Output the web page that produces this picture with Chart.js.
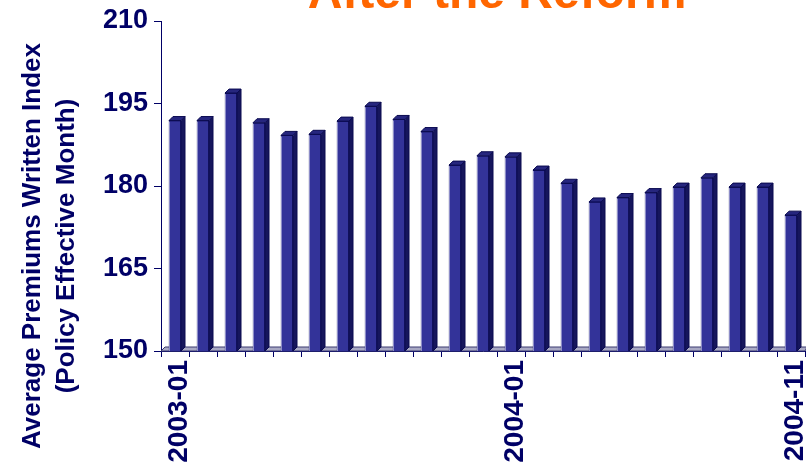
<!DOCTYPE html>
<html>
<head>
<meta charset="utf-8">
<title>After the Reform</title>
<script src="https://cdn.jsdelivr.net/npm/chart.js@4.4.0/dist/chart.umd.min.js"></script>
<style>
  html, body { margin: 0; padding: 0; background: #fff; }
  canvas { display: block; }
</style>
</head>
<body>
<canvas id="premiumsChart" width="806" height="466"></canvas>
<script>
const months = [
    '2003-01', '2003-02', '2003-03', '2003-04', '2003-05', '2003-06',
    '2003-07', '2003-08', '2003-09', '2003-10', '2003-11', '2003-12',
    '2004-01', '2004-02', '2004-03', '2004-04', '2004-05', '2004-06',
    '2004-07', '2004-08', '2004-09', '2004-10', '2004-11'
];
const premiumsIndex = [
    191.9, 191.9, 196.9, 191.5, 189.2, 189.4, 191.8, 194.5, 192.1, 189.9, 183.8, 185.5,
    185.3, 182.9, 180.5, 177.1, 177.9, 178.8, 179.8, 181.5, 179.8, 179.8, 174.7
];
const shownMonths = ['2003-01', '2004-01', '2004-11'];
const yTicks = [150, 165, 180, 195, 210];

const FONT = "'Liberation Sans', Arial, sans-serif";
const NAVY = '#000066';
const DEPTH = 4;

// fake 3D: floor strip, bar tops and right-hand sides
const bar3d = {
    id: 'bar3d',
    beforeDatasetsDraw(chart) {
        const ctx = chart.ctx;
        const area = chart.chartArea;
        ctx.save();
        ctx.beginPath();
        ctx.moveTo(area.left, area.bottom);
        ctx.lineTo(area.left + DEPTH, area.bottom - DEPTH);
        ctx.lineTo(area.right + DEPTH - 2, area.bottom - DEPTH);
        ctx.lineTo(area.right, area.bottom);
        ctx.closePath();
        ctx.fillStyle = '#a9a9c4';
        ctx.fill();
        ctx.strokeStyle = '#3a3a70';
        ctx.lineWidth = 1;
        ctx.stroke();
        ctx.restore();
    },
    afterDatasetsDraw(chart) {
        const ctx = chart.ctx;
        const area = chart.chartArea;
        ctx.save();
        ctx.lineWidth = 1;
        chart.getDatasetMeta(0).data.forEach(bar => {
            const l = bar.x - bar.width / 2;
            const r = bar.x + bar.width / 2;
            const top = bar.y;
            const base = Math.min(bar.base, area.bottom);

            ctx.strokeStyle = '#0a0a50';
            ctx.beginPath();
            ctx.moveTo(r, top);
            ctx.lineTo(r + DEPTH, top - DEPTH);
            ctx.lineTo(r + DEPTH, base - DEPTH);
            ctx.lineTo(r, base);
            ctx.closePath();
            ctx.fillStyle = '#16165c';
            ctx.fill();
            ctx.stroke();

            ctx.beginPath();
            ctx.moveTo(l, top);
            ctx.lineTo(l + DEPTH, top - DEPTH);
            ctx.lineTo(r + DEPTH, top - DEPTH);
            ctx.lineTo(r, top);
            ctx.closePath();
            ctx.fillStyle = '#26267e';
            ctx.fill();
            ctx.stroke();

            ctx.beginPath();
            ctx.moveTo(l + 0.5, top + 1);
            ctx.lineTo(l + 0.5, base);
            ctx.strokeStyle = '#8c8cc8';
            ctx.stroke();
        });
        ctx.restore();
    }
};

// headline and two-line axis title
const headings = {
    id: 'headings',
    afterDraw(chart) {
        const ctx = chart.ctx;
        ctx.save();
        ctx.fillStyle = '#ff6600';
        ctx.font = 'bold 48px ' + FONT;
        ctx.textAlign = 'center';
        ctx.textBaseline = 'alphabetic';
        ctx.fillText('After the Reform', 497, 8);

        ctx.fillStyle = NAVY;
        ctx.font = 'bold 26px ' + FONT;
        ctx.textBaseline = 'middle';
        ctx.translate(0, 246);
        ctx.rotate(-Math.PI / 2);
        ctx.fillText('Average Premiums Written Index', 0, 33);
        ctx.fillText('(Policy Effective Month)', 0, 67);
        ctx.restore();
    }
};

new Chart(document.getElementById('premiumsChart').getContext('2d'), {
    type: 'bar',
    data: {
        labels: months,
        datasets: [{
            data: premiumsIndex,
            backgroundColor: '#333399',
            borderColor: '#0a0a50',
            borderWidth: 1,
            borderSkipped: 'bottom',
            barThickness: 12
        }]
    },
    options: {
        responsive: false,
        animation: false,
        layout: { padding: { top: 21, right: 1, left: 0, bottom: 0 } },
        plugins: {
            legend: { display: false },
            tooltip: { enabled: false }
        },
        scales: {
            x: {
                afterFit(scale) {
                    scale.height = 115;
                    scale.paddingLeft = 0;
                    scale.paddingRight = 0;
                },
                border: { color: NAVY, width: 1 },
                grid: {
                    display: true,
                    offset: true,
                    drawOnChartArea: false,
                    tickLength: 6,
                    color: NAVY
                },
                ticks: {
                    autoSkip: false,
                    minRotation: 90,
                    maxRotation: 90,
                    padding: 3,
                    labelOffset: 4,
                    color: NAVY,
                    font: { family: FONT, size: 28, weight: 'bold' },
                    callback(value) {
                        const label = this.getLabelForValue(value);
                        return shownMonths.includes(label) ? label : '';
                    }
                }
            },
            y: {
                min: yTicks[0],
                max: yTicks[yTicks.length - 1],
                afterFit(scale) {
                    scale.width = 161;
                    scale.paddingTop = 0;
                    scale.paddingBottom = 0;
                },
                afterBuildTicks(scale) { scale.ticks = yTicks.map(v => ({ value: v })); },
                border: { color: NAVY, width: 1 },
                grid: {
                    drawOnChartArea: false,
                    tickLength: 7,
                    color: NAVY
                },
                ticks: {
                    padding: 6,
                    color: NAVY,
                    font: { family: FONT, size: 27, weight: 'bold' }
                }
            }
        }
    },
    plugins: [bar3d, headings]
});
</script>
</body>
</html>
